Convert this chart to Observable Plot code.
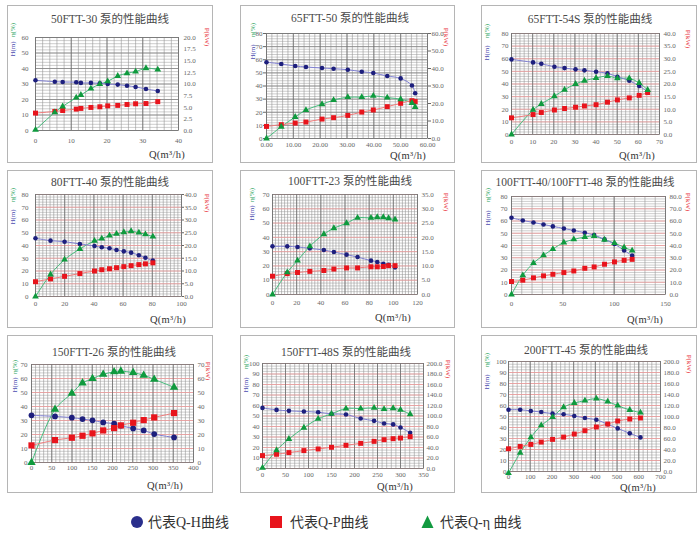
<!DOCTYPE html>
<html><head><meta charset="utf-8">
<script src="https://cdn.jsdelivr.net/npm/d3@7"></script>
<script src="https://cdn.jsdelivr.net/npm/@observablehq/plot@0.6"></script>
<style>
body{margin:0;background:#fff;}
#wrap{position:relative;width:700px;height:537px;overflow:hidden;background:#fff;}
.panel{position:absolute;}
.panel svg{display:block;background:#fff;}
#legend{position:absolute;left:0;top:505px;}
</style></head><body><div id="wrap"></div>
<script>
// ---------- titles ----------
const titles = ["50FTT-30 泵的性能曲线","65FTT-50 泵的性能曲线","65FTT-54S 泵的性能曲线",
  "80FTT-40 泵的性能曲线","100FTT-23 泵的性能曲线","100FTT-40/100FTT-48 泵的性能曲线",
  "150FTT-26 泵的性能曲线","150FTT-48S 泵的性能曲线","200FTT-45 泵的性能曲线"];
const legendLabels = ["代表Q-H曲线","代表Q-P曲线","代表Q-η 曲线"];

// ---------- data: Q (m3/h), H (m), P (kW), eta (%) ----------
const q1 = [0,5.4,7.6,11.4,12.7,15.5,18,20.2,23,25.6,28,30.9,34.2];
const h1 = [32.4,31.5,31.3,31.1,30.7,30.7,30.5,30,29.6,28.9,28.1,26.8,25.5];
const p1 = [3.74,4.1,4.3,4.6,4.75,4.96,5.1,5.3,5.4,5.6,5.75,5.8,6.2];
const e1 = [0.4,11.7,15.5,21.2,22.9,27,30,31.7,35.2,36.9,38,40.2,39.3];

const q2 = [0,5.5,10.7,14.7,20.7,25,30.3,35.5,39.8,45,50,54.2,55.4];
const h2 = [58.1,56.8,55.2,54.5,53.7,53.2,52.4,50.9,49.9,47.6,45.8,40.4,34.5];
const p2 = [6.9,7.9,8.8,9.4,11.1,11.9,13.2,15.1,16.3,18.2,20.1,21.6,21.1];
const e2 = [0,9,16.4,21.7,26.1,29.2,31.5,31.5,32.5,31.2,29.9,27.1,24];

const q3 = [0,10.2,14.1,20.3,25.1,30.3,34.5,40,45.4,50.1,55.7,60.4,64.4];
const h3 = [59.5,57.1,56,53.7,52.6,51.6,50.8,49.7,48.4,45.8,42.6,38.4,33.9];
const p3 = [6.6,7.9,8.7,9.7,10.3,10.8,11.3,11.8,12.8,13.7,14.5,15.5,16.6];
const e3 = [0,19.5,24.2,30.3,35.5,40,42.6,44.7,46.3,44.5,44.5,40.8,35.3];

const q4 = [0,10.3,19.9,30.4,40.4,45.4,50.7,55.5,60.5,65.5,70.8,75.3,80.4];
const h4 = [45.7,43.8,43,41.2,39.6,38.6,37.8,36.5,35.4,34.4,32.3,30.4,28.1];
const p4 = [5.8,6.9,7.9,9,10,10.5,10.9,11.3,11.7,12.1,12.5,12.8,13.2];
const e4 = [0,17.3,28.9,37.3,43.6,45.4,47.8,49.1,50.4,51.2,50.1,48.8,47];

const q5 = [0,12.2,20.7,30.9,42.5,50.8,61.3,70.4,81.5,86.7,91.7,96.1,101.4];
const h5 = [33.7,33.7,33.3,32.3,31.1,29.7,27.9,26.2,23.7,22.7,21.5,20.8,19];
const p5 = [6.4,7.3,7.7,8.1,8.4,8.9,9.3,9.3,9.7,9.7,9.8,10.1,10.1];
const e5 = [0,15.5,23.7,33.7,42.2,46.4,49.9,53.6,53.6,54.1,54.1,53.4,52.5];

const q6 = [0,11,21.4,31.2,40.3,51,60.7,71.4,80.5,90.6,100.3,109.7,117.5];
const h6 = [62.6,60.4,58.8,57.2,55.6,53.9,52.3,50.4,48.5,45,41.2,36,31.7];
const p6 = [10.6,11.7,13.6,15.2,16.5,17.9,19.2,21.4,22.5,24.7,26.6,27.9,28.7];
const e6 = [0,15.7,25.7,32,37.1,42.5,45,46.9,47.7,44.7,42,38.5,35.8];

const q7 = [0,58,99.6,126,150.6,177,204,220.6,251,277,303,352];
const h7 = [33.7,32.9,32,31,30.1,28.6,27.7,26.3,24.3,22.9,20.3,17.9];
const p7 = [12.2,16,17.7,19.1,20.8,22.9,24.6,26.5,28.4,30.3,32.2,35.3];
const e7 = [0,37.9,49.4,56.8,59.9,63,64.7,65.2,64.2,62.3,59.4,53.7];

const q8 = [0,30.5,57.4,90,121,150,181.5,213.5,242.6,264.3,284,300,321];
const h8 = [57.7,55.8,54.9,54.3,53.6,52,51.4,47.6,45.4,42.9,42,39.1,34.1];
const p8 = [24.6,27.1,30.3,34.1,37.2,40.4,44.2,47.9,51.7,54.9,56.8,58,60.6];
const e8 = [0.6,17.4,28.1,38.8,47.3,52,57.1,57.1,57.7,56.5,57.4,55.8,51.7];

const q9 = [0,53.8,103,150.8,203,253.8,303,352,404.6,456.9,503,558.5,607.7];
const h9 = [56.2,56.2,55,54.1,52.6,52,50.5,48.6,47.1,42.9,39.2,34.7,31];
const p9 = [41.3,45.6,49.2,53.5,58.4,62.6,68.1,74.2,80.9,86.3,91.8,95.4,97.3];
const e9 = [-1.5,17,31,41.9,49.5,58.4,62.3,64.4,66.3,63.5,59.9,55.9,53.5];

const series = [[q1,h1,p1,e1],[q2,h2,p2,e2],[q3,h3,p3,e3],[q4,h4,p4,e4],[q5,h5,p5,e5],
  [q6,h6,p6,e6],[q7,h7,p7,e7],[q8,h8,p8,e8],[q9,h9,p9,e9]];

// ---------- axis ranges / tick steps ----------
const xMax   = [40,60,70,100,120,150,400,350,700];
const xStep  = [10,10,10,20,20,50,50,50,100];
const xMinor = [2,2,2,2.5,2.5,10,10,10,20];
const xDec   = [0,2,0,0,0,0,0,0,0];
const hMax   = [60,80,80,80,70,80,70,100,100];
const hStep  = [10,10,10,10,10,10,10,10,10];
const hMinor = [2,2,2,2,2,2,2,2.5,2.5];
const pMax   = [20,60,40,40,35,80,70,200,200];
const pStep  = [2.5,10,5,5,5,10,10,20,20];
const pDec   = [1,1,1,1,1,1,0,1,1];

// ---------- layout (pixels) ----------
const layout = [
 {x:7,  y:5,  w:206,h:158,m:[32,35,33,28],t:[103,18],lx:6, ey:25,hy:44,rx:200,py:32,qx:160,qy:153,xp:8,lt:0,lp:7,rt:0,rp:5,pink:false,ms:1},
 {x:240,y:5,  w:215,h:158,m:[28,28,25,26],t:[110,17],lx:13,ey:25,hy:47,rx:206,py:32,qx:168,qy:154,xp:4,lt:3,lp:1,rt:3,rp:1,pink:false,ms:1},
 {x:481,y:5,  w:216,h:158,m:[28,38,29,30],t:[109,18],lx:6, ey:26,hy:48,rx:207,py:34,qx:156,qy:154,xp:5,lt:0,lp:3,rt:0,rp:4,pink:true,ms:1},
 {x:7,  y:170,w:206,h:158,m:[24,32,32,28],t:[103,16],lx:6, ey:25,hy:47,rx:200,py:33,qx:161,qy:153,xp:5,lt:0,lp:7,rt:2,rp:1,pink:true,ms:1},
 {x:240,y:170,w:215,h:158,m:[24,38,34,32],t:[110,15],lx:12,ey:25,hy:43,rx:206,py:32,qx:153,qy:151,xp:6,lt:0,lp:3,rt:0,rp:4,pink:true,ms:1},
 {x:481,y:170,w:216,h:158,m:[26,32,34,30],t:[104,16],lx:7, ey:25,hy:48,rx:207,py:32,qx:164,qy:153,xp:7,lt:0,lp:4,rt:0,rp:4,pink:true,ms:1},
 {x:7,  y:335,w:206,h:158,m:[29,20,31,24],t:[107,21],lx:8, ey:32,hy:50,rx:201,py:36,qx:158,qy:154,xp:3,lt:0,lp:4,rt:0,rp:4,pink:true,ms:1.25},
 {x:240,y:335,w:215,h:158,m:[28,32,25,22],t:[106,21],lx:6, ey:27,hy:50,rx:208,py:34,qx:155,qy:155,xp:4,lt:0,lp:3,rt:0,rp:3,pink:true,ms:1},
 {x:481,y:335,w:216,h:158,m:[26,37,22,27],t:[105,19],lx:6, ey:25,hy:47,rx:208,py:29,qx:157,qy:155.5,xp:3,lt:0,lp:2,rt:0,rp:3,pink:true,ms:1}
];

const C = {hDot:"#1d1f7d", pDot:"#e8141c", eDot:"#0f9a3e",
           hLine:"#7f7fd2", pLine:"#f07a7a", eLine:"#45bb7c"};
const serif = '"Liberation Serif", "Noto Sans CJK SC", serif';
const wrap = document.getElementById("wrap");

function makePanel(i){
  const L = layout[i];
  const [q,h,p,e] = series[i];
  const f = hMax[i]/pMax[i];
  const rows = q.map((v,j)=>({q:v, h:h[j], p:p[j]*f, e:e[j]}));
  const eps = 1e-9;
  const xt = d3.range(0, xMax[i]+eps, xStep[i]);
  const xm = d3.range(0, xMax[i]+eps, xMinor[i]);
  const ht = d3.range(0, hMax[i]+eps, hStep[i]);
  const hm = d3.range(0, hMax[i]+eps, hMinor[i]);
  const pt = d3.range(0, pMax[i]+eps, pStep[i]).map(v=>v*f);
  const ms = L.ms;
  const svg = Plot.plot({
    width:L.w, height:L.h,
    marginTop:L.m[0], marginRight:L.m[1], marginBottom:L.m[2], marginLeft:L.m[3],
    x:{domain:[0,xMax[i]], label:null},
    y:{domain:[0,hMax[i]], label:null},
    style:{fontFamily:serif, fontSize:"7px", color:"#666", background:"#fff", overflow:"visible"},
    marks:[
      Plot.ruleY(hm, {stroke:"#ababab", strokeWidth:0.6}),
      Plot.ruleX(xm, {stroke:"#959595", strokeWidth:0.6}),
      Plot.ruleY(ht, {stroke: L.pink ? "#f09a9a" : "#858585", strokeWidth:0.8}),
      Plot.ruleX(xt, {stroke:"#666", strokeWidth:0.7}),
      Plot.frame({stroke:"#777", strokeWidth:0.8}),
      Plot.axisX(xt, {tickSize:0, tickPadding:L.xp, tickFormat:d=>d.toFixed(xDec[i]), label:null}),
      Plot.axisY(ht, {anchor:"left", tickSize:L.lt, tickPadding:L.lp, tickFormat:d=>String(d), label:null}),
      Plot.axisY(pt, {anchor:"right", tickSize:L.rt, tickPadding:L.rp, tickFormat:d=>(d/f).toFixed(pDec[i]), label:null}),
      Plot.line(rows, {x:"q", y:"e", curve:"catmull-rom", stroke:C.eLine, strokeWidth:1}),
      Plot.line(rows, {x:"q", y:"p", curve:"catmull-rom", stroke:C.pLine, strokeWidth:1}),
      Plot.line(rows, {x:"q", y:"h", curve:"catmull-rom", stroke:C.hLine, strokeWidth:1}),
      Plot.dot(rows, {x:"q", y:"h", r:2.3*ms, fill:C.hDot, symbol:"circle"}),
      Plot.dot(rows, {x:"q", y:"p", r:2.8*ms, fill:C.pDot, symbol:"square"}),
      Plot.dot(rows, {x:"q", y:"e", r:2.5*ms, fill:C.eDot, symbol:"triangle"})
    ]
  });
  const s = d3.select(svg);
  s.append("rect").attr("x",0.5).attr("y",0.5).attr("width",L.w-1).attr("height",L.h-1)
    .attr("fill","none").attr("stroke","#b5b5b5").attr("stroke-width",1);
  s.append("text").attr("x",L.t[0]).attr("y",L.t[1]).attr("text-anchor","middle")
    .style("font-family",serif).style("font-size","11.5px").attr("fill","#4a4a4a").text(titles[i]);
  const small = (txt, x, y, rot, col) => s.append("text")
    .attr("transform",`translate(${x},${y}) rotate(${rot})`).attr("text-anchor","middle")
    .attr("dominant-baseline","central").style("font-family",serif).style("font-size","7px")
    .attr("fill",col).text(txt);
  small("η(%)", L.lx, L.ey, -90, "#2aa55c");
  small("H(m)", L.lx, L.hy, -90, "#4b4bb0");
  small("P(kW)", L.rx, L.py, 90, "#e8343c");
  s.append("text").attr("x",L.qx).attr("y",L.qy).style("font-family",serif).style("font-size","10.5px")
    .style("letter-spacing","0.3px").attr("fill","#333").text("Q(m³/h)");
  const div = document.createElement("div");
  div.className = "panel";
  div.style.left = L.x+"px"; div.style.top = L.y+"px";
  div.appendChild(svg);
  wrap.appendChild(div);
}
for (let i=0;i<9;i++) makePanel(i);

// ---------- legend ----------
const lg = d3.select(wrap).append("svg").attr("id","legend").attr("width",700).attr("height",32);
const cy = 17;
lg.append("circle").attr("cx",137).attr("cy",cy).attr("r",6).attr("fill","#2a2f8c");
lg.append("rect").attr("x",270).attr("y",cy-6).attr("width",12).attr("height",12).attr("fill","#e8141c");
lg.append("path").attr("d",`M427.5,${cy-6.5} L433.5,${cy+6} L421.5,${cy+6} Z`).attr("fill","#129a40");
[[148,legendLabels[0]],[290,legendLabels[1]],[440,legendLabels[2]]].forEach(([x,t])=>{
  lg.append("text").attr("x",x).attr("y",cy+5).style("font-family",serif).style("font-size","14px")
    .attr("fill","#333").text(t);
});
</script></body></html>
